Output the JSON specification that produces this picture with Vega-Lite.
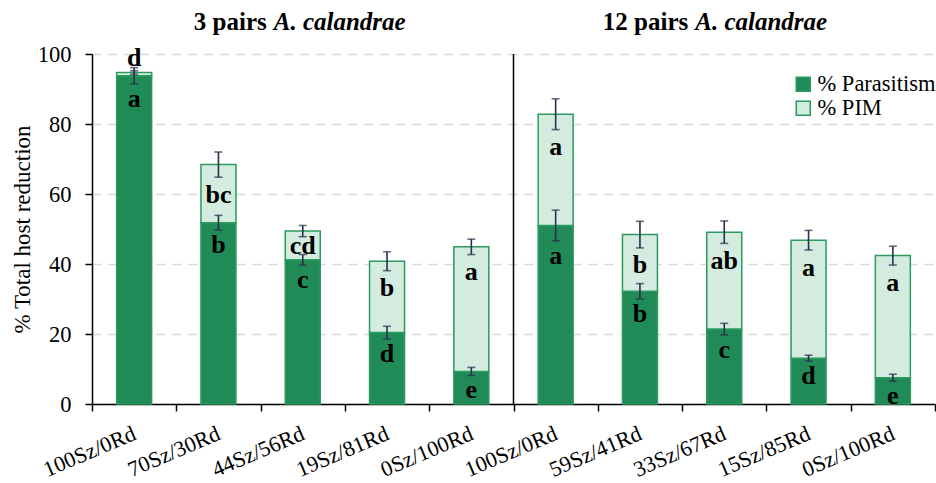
{
  "$schema": "https://vega.github.io/schema/vega-lite/v6.json",
  "width": 843,
  "height": 350,
  "autosize": "none",
  "padding": {"left": 92, "top": 54, "right": 1, "bottom": 79},
  "background": "white",
  "config": {
    "view": {"stroke": null},
    "font": "Liberation Serif",
    "axis": {
      "labelColor": "black",
      "titleFontWeight": "normal",
      "titleColor": "black",
      "domainColor": "black",
      "domainWidth": 1.5,
      "tickColor": "black",
      "tickWidth": 1.5,
      "tickSize": 7
    },
    "axisY": {"grid": true, "gridColor": "#D9D9D9", "gridDash": [9, 7], "gridWidth": 1.5, "labelPadding": 14, "titlePadding": 3, "tickCount": 6},
    "axisX": {"grid": false},
    "legend": {
      "orient": "none",
      "legendX": 700,
      "legendY": 19,
      "title": null,
      "symbolType": "square",
      "symbolSize": 196,
      "symbolStrokeColor": "#2A9A5E",
      "symbolStrokeWidth": 1.5,
      "labelColor": "black",
      "labelOffset": 3,
      "rowPadding": 1,
      "padding": 0
    }
  },
  "layer": [
    {
      "data": {
        "values": [
          {"key": "3|100Sz/0Rd", "para": 93.8, "para_err": 2.3, "pim": 0.9, "pim_err": 0.5, "para_letter": "a", "pim_letter": "d"},
          {"key": "3|70Sz/30Rd", "para": 51.8, "para_err": 2.1, "pim": 16.6, "pim_err": 3.6, "para_letter": "b", "pim_letter": "bc"},
          {"key": "3|44Sz/56Rd", "para": 41.2, "para_err": 1.5, "pim": 8.2, "pim_err": 1.6, "para_letter": "c", "pim_letter": "cd"},
          {"key": "3|19Sz/81Rd", "para": 20.4, "para_err": 1.8, "pim": 20.4, "pim_err": 2.7, "para_letter": "d", "pim_letter": "b"},
          {"key": "3|0Sz/100Rd", "para": 9.3, "para_err": 1.15, "pim": 35.6, "pim_err": 2.2, "para_letter": "e", "pim_letter": "a"},
          {"key": "12|100Sz/0Rd", "para": 51.0, "para_err": 4.4, "pim": 31.8, "pim_err": 4.4, "para_letter": "a", "pim_letter": "a"},
          {"key": "12|59Sz/41Rd", "para": 32.2, "para_err": 2.2, "pim": 16.2, "pim_err": 3.8, "para_letter": "b", "pim_letter": "b"},
          {"key": "12|33Sz/67Rd", "para": 21.4, "para_err": 1.65, "pim": 27.7, "pim_err": 3.2, "para_letter": "c", "pim_letter": "ab"},
          {"key": "12|15Sz/85Rd", "para": 13.1, "para_err": 0.85, "pim": 33.7, "pim_err": 2.8, "para_letter": "d", "pim_letter": "a"},
          {"key": "12|0Sz/100Rd", "para": 7.5, "para_err": 1.0, "pim": 34.9, "pim_err": 2.7, "para_letter": "e", "pim_letter": "a"}
        ]
      },
      "transform": [
        {"calculate": "datum.para + datum.pim", "as": "total"},
        {"calculate": "datum.para - datum.para_err", "as": "para_lo"},
        {"calculate": "datum.para + datum.para_err", "as": "para_hi"},
        {"calculate": "datum.total - datum.pim_err", "as": "tot_lo"},
        {"calculate": "datum.total + datum.pim_err", "as": "tot_hi"},
        {"calculate": "max(datum.tot_lo - 5, (datum.tot_lo + datum.para_hi) / 2)", "as": "pim_lab"}
      ],
      "layer": [
        {
          "mark": {"type": "bar", "width": {"band": 0.415}, "stroke": "#2A9A5E", "strokeWidth": 1.5},
          "encoding": {
            "x": {
              "field": "key", "type": "nominal", "title": null,
              "scale": {"domain": ["3|100Sz/0Rd", "3|70Sz/30Rd", "3|44Sz/56Rd", "3|19Sz/81Rd", "3|0Sz/100Rd", "12|100Sz/0Rd", "12|59Sz/41Rd", "12|33Sz/67Rd", "12|15Sz/85Rd", "12|0Sz/100Rd"], "paddingInner": 0, "paddingOuter": 0},
              "axis": {"labelExpr": "split(datum.label, '|')[1]", "labelFont": "Liberation Serif", "labelFontSize": 22, "labelAngle": -23, "labelAlign": "right", "labelBaseline": "middle", "labelPadding": 21, "tickBand": "extent"}
            },
            "y": {"field": "para", "type": "quantitative", "title": "% Total host reduction", "scale": {"domain": [0, 100], "nice": false},
              "axis": {"labelFont": "Liberation Serif", "titleFont": "Liberation Serif", "labelFontSize": 22.5, "titleFontSize": 23}},
            "y2": {"datum": 0},
            "color": {"datum": "% Parasitism", "type": "nominal", "scale": {"domain": ["% Parasitism", "% PIM"], "range": ["#218B57", "#D4ECDF"]},
              "legend": {"labelFont": "Liberation Serif", "labelFontSize": 22.5}}
          }
        },
        {
          "mark": {"type": "bar", "width": {"band": 0.415}, "stroke": "#2A9A5E", "strokeWidth": 1.5},
          "encoding": {
            "x": {"field": "key", "type": "nominal", "title": null},
            "y": {"field": "para", "type": "quantitative", "title": "% Total host reduction"},
            "y2": {"field": "total"},
            "color": {"datum": "% PIM", "type": "nominal"}
          }
        },
        {
          "mark": {"type": "errorbar", "color": "#2B2F4A", "ticks": {"size": 8, "thickness": 1.6}, "rule": {"strokeWidth": 1.6}},
          "encoding": {
            "x": {"field": "key", "type": "nominal", "title": null},
            "y": {"field": "para_lo", "type": "quantitative", "title": "% Total host reduction"},
            "y2": {"field": "para_hi"}
          }
        },
        {
          "mark": {"type": "errorbar", "color": "#2B2F4A", "ticks": {"size": 8, "thickness": 1.6}, "rule": {"strokeWidth": 1.6}},
          "encoding": {
            "x": {"field": "key", "type": "nominal", "title": null},
            "y": {"field": "tot_lo", "type": "quantitative", "title": "% Total host reduction"},
            "y2": {"field": "tot_hi"}
          }
        },
        {
          "mark": {"type": "text", "font": "Liberation Serif", "fontSize": 26, "fontWeight": "bold", "baseline": "middle", "dy": 15, "color": "black"},
          "encoding": {
            "x": {"field": "key", "type": "nominal", "title": null},
            "y": {"field": "para_lo", "type": "quantitative", "title": "% Total host reduction"},
            "text": {"field": "para_letter"}
          }
        },
        {
          "transform": [{"filter": "datum.pim >= 3"}],
          "mark": {"type": "text", "font": "Liberation Serif", "fontSize": 26, "fontWeight": "bold", "baseline": "middle", "color": "black"},
          "encoding": {
            "x": {"field": "key", "type": "nominal", "title": null},
            "y": {"field": "pim_lab", "type": "quantitative", "title": "% Total host reduction"},
            "text": {"field": "pim_letter"}
          }
        },
        {
          "transform": [{"filter": "datum.pim < 3"}],
          "mark": {"type": "text", "font": "Liberation Serif", "fontSize": 26, "fontWeight": "bold", "baseline": "middle", "dy": -13, "color": "black"},
          "encoding": {
            "x": {"field": "key", "type": "nominal", "title": null},
            "y": {"field": "tot_hi", "type": "quantitative", "title": "% Total host reduction"},
            "text": {"field": "pim_letter"}
          }
        }
      ]
    },
    {
      "data": {"values": [{"sep": "groups"}]},
      "mark": {"type": "rule", "color": "black", "strokeWidth": 1.5},
      "encoding": {
        "x": {"datum": "12|100Sz/0Rd", "type": "nominal", "bandPosition": 0, "title": null},
        "y": {"datum": 0, "type": "quantitative", "title": "% Total host reduction"},
        "y2": {"datum": 100}
      }
    },
    {
      "data": {
        "values": [
          {"key": "3|44Sz/56Rd", "pre": "3 pairs", "sp": "A. calandrae"},
          {"key": "12|33Sz/67Rd", "pre": "12 pairs", "sp": "A. calandrae"}
        ]
      },
      "layer": [
        {
          "mark": {"type": "text", "font": "Liberation Serif", "fontSize": 25, "fontWeight": "bold", "align": "right", "baseline": "alphabetic", "dx": -36, "color": "black"},
          "encoding": {
            "x": {"field": "key", "type": "nominal", "title": null},
            "y": {"datum": 107, "type": "quantitative", "title": "% Total host reduction"},
            "text": {"field": "pre"}
          }
        },
        {
          "mark": {"type": "text", "font": "Liberation Serif", "fontSize": 25, "fontWeight": "bold", "fontStyle": "italic", "align": "left", "baseline": "alphabetic", "dx": -29, "color": "black"},
          "encoding": {
            "x": {"field": "key", "type": "nominal", "title": null},
            "y": {"datum": 107, "type": "quantitative", "title": "% Total host reduction"},
            "text": {"field": "sp"}
          }
        }
      ]
    }
  ]
}
